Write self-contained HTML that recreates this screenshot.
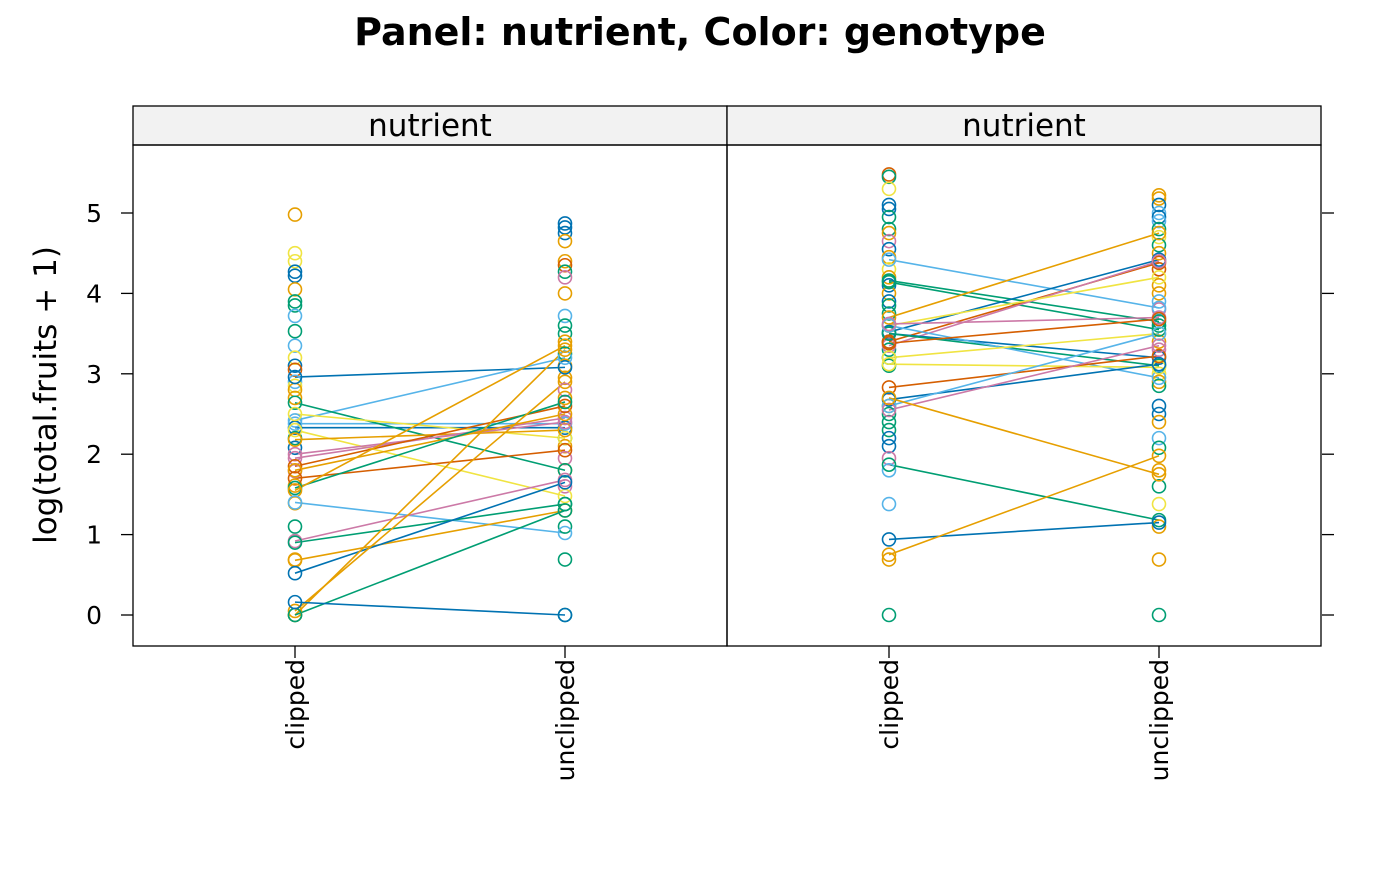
<!DOCTYPE html>
<html><head><meta charset="utf-8"><style>
body{margin:0;background:#fff;}
svg text{font-family:"DejaVu Sans","Liberation Sans",sans-serif;}
</style></head><body>
<svg id="chart" width="1400" height="866" xmlns="http://www.w3.org/2000/svg">
<text x="700" y="45" text-anchor="middle" font-size="38" font-weight="bold">Panel: nutrient, Color: genotype</text>
<text transform="translate(56,395) rotate(-90)" text-anchor="middle" font-size="31">log(total.fruits + 1)</text>
<g id="g"></g>
</svg>
<script>
const C={o:"#E69F00",s:"#56B4E9",g:"#009E73",y:"#F0E442",b:"#0072B2",v:"#D55E00",p:"#CC79A7"};
const panels=["nutrient","nutrient"];
const categories=["clipped","unclipped"];
const yTicks=[0,1,2,3,4,5];
const linesLeft=[[2.96,3.08,"b"],[2.42,3.2,"s"],[2.33,2.33,"b"],[2.38,2.38,"s"],[2.64,1.8,"g"],[2.5,2.2,"y"],[2.3,1.48,"y"],[2.18,2.3,"o"],[2.0,2.4,"p"],[1.95,2.45,"p"],[1.85,2.6,"v"],[1.8,2.5,"o"],[1.7,2.05,"v"],[1.58,2.65,"g"],[1.55,3.35,"o"],[1.4,1.02,"s"],[0.92,1.68,"p"],[0.9,1.38,"g"],[0.68,1.3,"o"],[0.52,1.65,"b"],[0.0,3.3,"o"],[0.05,2.9,"o"],[0.0,1.3,"g"],[0.16,0.0,"b"]];
const linesRight=[[4.42,3.82,"s"],[4.16,3.65,"g"],[4.14,3.55,"g"],[3.7,4.75,"o"],[3.52,4.42,"b"],[3.4,4.38,"v"],[3.35,4.4,"p"],[3.5,3.2,"b"],[3.5,3.1,"g"],[3.6,4.2,"y"],[3.6,2.95,"s"],[3.62,3.7,"p"],[3.38,3.68,"v"],[3.2,3.5,"y"],[3.12,3.08,"y"],[2.83,3.22,"v"],[2.68,3.12,"b"],[2.6,3.5,"s"],[2.55,3.35,"p"],[2.7,1.75,"o"],[1.87,1.18,"g"],[0.94,1.15,"b"],[0.75,1.98,"o"]];
const pointsLeft=[[0,4.98,"o"],[0,4.5,"y"],[0,4.4,"y"],[0,4.27,"b"],[0,4.22,"b"],[0,4.05,"o"],[0,3.9,"g"],[0,3.85,"g"],[0,3.72,"s"],[0,3.53,"g"],[0,3.35,"s"],[0,3.2,"y"],[0,3.1,"b"],[0,3.05,"v"],[0,2.9,"s"],[0,2.85,"y"],[0,2.8,"o"],[0,2.7,"o"],[0,2.2,"g"],[0,2.08,"b"],[0,1.79,"p"],[0,1.61,"o"],[0,1.39,"o"],[0,1.1,"g"],[0,0.69,"o"],[0,0,"g"],
[1,4.87,"b"],[1,4.82,"b"],[1,4.75,"b"],[1,4.65,"o"],[1,4.4,"o"],[1,4.35,"v"],[1,4.27,"g"],[1,4.2,"p"],[1,4.0,"o"],[1,3.72,"s"],[1,3.6,"g"],[1,3.5,"g"],[1,3.4,"o"],[1,3.25,"g"],[1,3.1,"o"],[1,2.95,"o"],[1,2.8,"p"],[1,2.7,"o"],[1,2.2,"g"],[1,2.1,"o"],[1,1.95,"p"],[1,1.8,"o"],[1,1.6,"p"],[1,1.38,"g"],[1,1.1,"g"],[1,0.69,"g"],[1,0,"g"]];
const pointsRight=[[0,5.48,"v"],[0,5.45,"g"],[0,5.3,"y"],[0,5.1,"b"],[0,5.05,"b"],[0,4.95,"g"],[0,4.8,"g"],[0,4.75,"o"],[0,4.65,"p"],[0,4.55,"b"],[0,4.45,"o"],[0,4.3,"y"],[0,4.2,"o"],[0,4.1,"b"],[0,4.0,"o"],[0,3.9,"b"],[0,3.85,"g"],[0,3.75,"g"],[0,3.6,"o"],[0,3.4,"b"],[0,3.3,"g"],[0,3.2,"g"],[0,3.1,"g"],[0,2.6,"o"],[0,2.5,"g"],[0,2.4,"g"],[0,2.3,"g"],[0,2.2,"b"],[0,2.1,"b"],[0,1.95,"p"],[0,1.8,"s"],[0,1.38,"s"],[0,0.69,"o"],[0,0,"g"],
[1,5.22,"o"],[1,5.18,"o"],[1,5.1,"b"],[1,5.0,"s"],[1,4.95,"b"],[1,4.9,"s"],[1,4.8,"g"],[1,4.7,"y"],[1,4.6,"g"],[1,4.5,"o"],[1,4.3,"v"],[1,4.1,"o"],[1,4.0,"o"],[1,3.9,"s"],[1,3.8,"p"],[1,3.6,"g"],[1,3.4,"o"],[1,3.3,"p"],[1,3.0,"y"],[1,2.9,"o"],[1,2.85,"g"],[1,2.6,"b"],[1,2.5,"b"],[1,2.4,"o"],[1,2.2,"s"],[1,2.08,"g"],[1,1.8,"o"],[1,1.6,"g"],[1,1.38,"y"],[1,1.1,"o"],[1,0.69,"o"],[1,0,"g"]];

const NS="http://www.w3.org/2000/svg";
const G=document.getElementById("g");
function mk(t,a,par){const e=document.createElementNS(NS,t);for(const k in a)e.setAttribute(k,a[k]);(par||G).appendChild(e);return e;}
const panelX=[133,727],panelW=594,plotTop=145,plotBot=646;
const yScale=v=>615-v*80.4;
const xScale=(p,i)=>panelX[p]+162+i*270;
const lineData=[linesLeft,linesRight],pointData=[pointsLeft,pointsRight];
for(let p=0;p<2;p++){
  const x0=panelX[p];
  const strip=mk("rect",{x:x0,y:106,width:panelW,height:39,fill:"#f2f2f2",stroke:"#000","stroke-width":1.3});
  
  
  const st=mk("text",{x:x0+panelW/2,y:136,"text-anchor":"middle","font-size":31});
  st.textContent=panels[p];
  
  
  lineData[p].forEach(d=>{
    const l=mk("line",{x1:xScale(p,0),y1:yScale(d[0]),x2:xScale(p,1),y2:yScale(d[1]),stroke:C[d[2]],"stroke-width":1.6});
    
    
  });
  const pts=pointData[p].concat(lineData[p].flatMap(d=>[[0,d[0],d[2]],[1,d[1],d[2]]]));
  pts.forEach(d=>{
    const c=mk("circle",{cx:xScale(p,d[0]),cy:yScale(d[1]),r:6.5,fill:"none",stroke:C[d[2]],"stroke-width":1.6});
    
    
  });
  const fr=mk("rect",{x:x0,y:plotTop,width:panelW,height:plotBot-plotTop,fill:"none",stroke:"#000","stroke-width":1.3});
  
  
  categories.forEach((c,i)=>{
    const x=xScale(p,i);
    const t=mk("line",{x1:x,y1:plotBot,x2:x,y2:plotBot+12,stroke:"#000","stroke-width":1.3});
    
    
    const lb=mk("text",{transform:`translate(${x+9},${plotBot+13}) rotate(-90)`,"text-anchor":"end","font-size":25});
    lb.textContent=c;
    
    
  });
}
yTicks.forEach(v=>{
  const y=yScale(v);
  const a=mk("line",{x1:121,y1:y,x2:133,y2:y,stroke:"#000","stroke-width":1.3});
  
  
  const b=mk("line",{x1:1322,y1:y,x2:1334,y2:y,stroke:"#000","stroke-width":1.3});
  
  
  const t=mk("text",{x:102,y:y+9,"text-anchor":"end","font-size":25});
  t.textContent=v;
  
  
});
</script>
</body></html>
